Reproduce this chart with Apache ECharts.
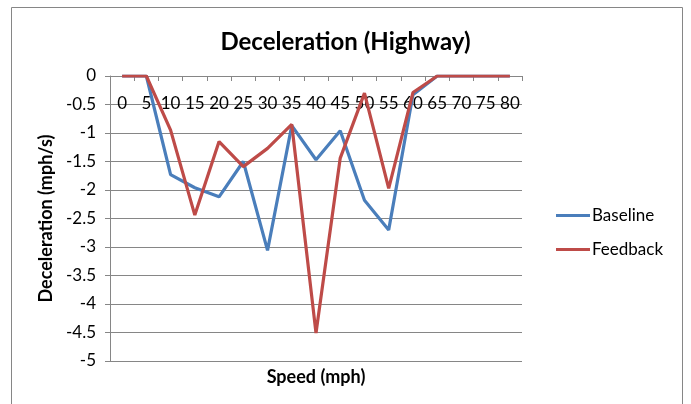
<!DOCTYPE html>
<html>
<head>
<meta charset="utf-8">
<script src="https://cdn.jsdelivr.net/npm/echarts@6/dist/echarts.min.js"></script>
<style>
  html, body { margin: 0; padding: 0; background: #fff; }
  #chart { width: 691px; height: 404px; }
</style>
</head>
<body>
<div id="chart"></div>
<script>
// Speed bins (mph)
const speeds = ['0','5','10','15','20','25','30','35','40','45','50','55','60','65','70','75','80'];
// Deceleration per speed bin (mph/s)
const baseline = [0, 0, -1.73, -1.96, -2.12, -1.50, -3.06, -0.87, -1.47, -0.96, -2.18, -2.70, -0.33, 0, 0, 0, 0];
const feedback = [0, 0, -0.95, -2.44, -1.15, -1.59, -1.27, -0.85, -4.51, -1.44, -0.30, -1.97, -0.29, 0, 0, 0, 0];

const FONT = 'Lato, "Open Sans", sans-serif';
const chart = echarts.init(document.getElementById('chart'));

chart.setOption({
  animation: false,
  textStyle: { fontFamily: FONT },
  title: {
    text: 'Deceleration (Highway)',
    left: 'center',
    top: 25,
    textStyle: { fontFamily: FONT, fontSize: 24, fontWeight: 'bold', color: '#000' }
  },
  legend: {
    orient: 'vertical',
    left: 551,
    top: 202,
    itemGap: 17,
    itemWidth: 34,
    itemHeight: 3,
    icon: 'rect',
    textStyle: { fontFamily: FONT, fontSize: 17, color: '#000', padding: [0, 0, 0, -3] },
    data: ['Baseline', 'Feedback']
  },
  graphic: [{
    type: 'rect',
    shape: { x: 11.5, y: 7.5, width: 671, height: 420 },
    style: { fill: 'none', stroke: '#868686', lineWidth: 1 },
    silent: true
  }],
  grid: { left: 110, top: 76, right: 169, bottom: 43 },
  xAxis: {
    type: 'category',
    data: speeds,
    position: 'top',
    boundaryGap: true,
    name: 'Speed (mph)',
    nameLocation: 'middle',
    nameGap: -310,
    nameTextStyle: { fontFamily: FONT, fontSize: 18, fontWeight: 'bold', color: '#000' },
    axisLine: { show: true, lineStyle: { color: '#868686', width: 1 } },
    axisTick: { show: true, inside: true, length: 5, alignWithLabel: false, lineStyle: { color: '#868686' } },
    axisLabel: { inside: true, margin: 19, fontSize: 17, color: '#000', fontFamily: FONT, interval: 0 },
    splitLine: { show: false }
  },
  yAxis: {
    type: 'value',
    min: -5,
    max: 0,
    interval: 0.5,
    name: 'Deceleration (mph/s)',
    nameLocation: 'middle',
    nameGap: 54,
    nameRotate: 90,
    nameTextStyle: { fontFamily: FONT, fontSize: 18, fontWeight: 'bold', color: '#000' },
    axisLine: { show: true, lineStyle: { color: '#868686', width: 1 } },
    axisTick: { show: true, length: 5, lineStyle: { color: '#868686' } },
    axisLabel: { fontSize: 17, color: '#000', margin: 14, fontFamily: FONT },
    splitLine: { show: true, lineStyle: { color: '#868686', width: 1 } }
  },
  series: [
    {
      name: 'Baseline',
      type: 'line',
      data: baseline,
      symbol: 'none',
      lineStyle: { width: 3.2, color: '#4A7EBB' },
      itemStyle: { color: '#4A7EBB' }
    },
    {
      name: 'Feedback',
      type: 'line',
      data: feedback,
      symbol: 'none',
      lineStyle: { width: 3.2, color: '#BE4B48' },
      itemStyle: { color: '#BE4B48' }
    }
  ]
});
</script>
</body>
</html>
